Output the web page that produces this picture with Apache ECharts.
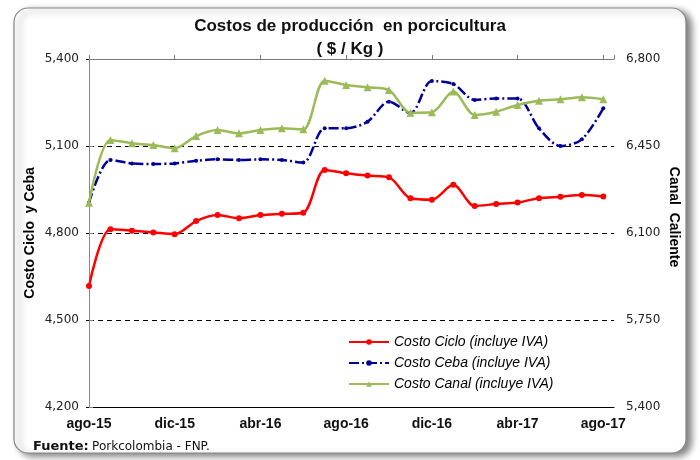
<!DOCTYPE html>
<html>
<head>
<meta charset="utf-8">
<script src="https://cdn.jsdelivr.net/npm/echarts@6/dist/echarts.min.js"></script>
<style>
  html, body { margin: 0; padding: 0; background: #fff; }
  #chart { width: 700px; height: 460px; }
</style>
</head>
<body>
<div id="chart"></div>
<script>
// meses ago-15 .. ago-17
const meses = [
  'ago-15', 'sep-15', 'oct-15', 'nov-15', 'dic-15', 'ene-16', 'feb-16', 'mar-16', 'abr-16',
  'may-16', 'jun-16', 'jul-16', 'ago-16', 'sep-16', 'oct-16', 'nov-16', 'dic-16',
  'ene-17', 'feb-17', 'mar-17', 'abr-17', 'may-17', 'jun-17', 'jul-17', 'ago-17'
];

// eje izquierdo
const costoCiclo = [4617, 4813, 4808, 4802, 4796, 4841, 4862, 4851, 4862, 4866, 4870, 5017, 5006,
  4998, 4992, 4920, 4915, 4966, 4893, 4900, 4905, 4920, 4925, 4931, 4926];
const costoCeba = [4905, 5052, 5040, 5038, 5040, 5049, 5054, 5052, 5054, 5052, 5043, 5161, 5161,
  5184, 5253, 5213, 5324, 5314, 5259, 5264, 5264, 5161, 5100, 5123, 5230];
// eje derecho
const costoCanal = [6222, 6474, 6461, 6454, 6441, 6490, 6514, 6501, 6514, 6521, 6517, 6713, 6695,
  6686, 6675, 6584, 6586, 6669, 6575, 6588, 6615, 6632, 6638, 6646, 6638];

const ticksIzq = [4200, 4500, 4800, 5100, 5400];
const ticksDer = [5400, 5750, 6100, 6450, 6800];

const nombres = ['Costo Ciclo (incluye IVA)', 'Costo Ceba (incluye IVA)', 'Costo Canal (incluye IVA)'];

const chart = echarts.init(document.getElementById('chart'));

const miles = (v) => String(v).replace(/\B(?=(\d{3})+(?!\d))/g, ',');
const labelNum = { fontFamily: 'DejaVu Sans', fontSize: 12, color: '#222' };

const option = {
  animation: false,
  title: {
    text: 'Costos de producción  en porcicultura\n( $ / Kg )',
    left: 'center',
    top: 10,
    textStyle: {
      fontFamily: "'Liberation Sans Narrow', 'Liberation Sans'",
      fontWeight: 'bold',
      fontSize: 17,
      lineHeight: 23,
      color: '#111',
    },
  },
  legend: {
    orient: 'vertical',
    left: 343,
    top: 330,
    itemWidth: 40,
    itemHeight: 7,
    itemGap: 7,
    data: nombres,
    textStyle: {
      fontFamily: 'Liberation Sans',
      fontStyle: 'italic',
      fontSize: 14,
      color: '#000',
    },
  },
  grid: {
    left: 89,
    right: 86,
    top: 59,
    bottom: 53,
  },
  xAxis: [
    {
      type: 'value',
      min: 0,
      max: 24.5,
      interval: 4,
      position: 'bottom',
      z: 1,
      axisLine: { lineStyle: { color: '#000', width: 1 } },
      axisTick: { show: false },
      splitLine: { show: false },
      axisLabel: {
        formatter: (v) => meses[v] || '',
        fontFamily: 'Liberation Sans',
        fontWeight: 'bold',
        fontSize: 14,
        color: '#111',
        margin: 10,
      },
    },
    {
      type: 'value',
      min: 0,
      max: 24.5,
      interval: 4,
      position: 'top',
      z: 1,
      axisLine: { lineStyle: { color: '#777', width: 1 } },
      axisTick: { show: true, length: 4, lineStyle: { color: '#777' } },
      axisLabel: { show: false },
      splitLine: { show: false },
    },
  ],
  yAxis: [
    {
      type: 'value',
      min: ticksIzq[0],
      max: ticksIzq[ticksIzq.length - 1],
      interval: ticksIzq[1] - ticksIzq[0],
      position: 'left',
      axisLine: { show: true, lineStyle: { color: '#000' } },
      axisTick: { show: true, length: 3, lineStyle: { color: '#000' } },
      axisLabel: { ...labelNum, formatter: miles, margin: 10 },
      splitLine: { show: true, lineStyle: { color: '#000', type: [5, 4], width: 1 } },
    },
    {
      type: 'value',
      min: ticksDer[0],
      max: ticksDer[ticksDer.length - 1],
      interval: ticksDer[1] - ticksDer[0],
      position: 'right',
      z: 1,
      axisLine: { show: true, lineStyle: { color: '#888' } },
      axisTick: { show: true, length: 4, lineStyle: { color: '#888' } },
      axisLabel: { ...labelNum, formatter: miles, margin: 12 },
      splitLine: { show: false },
    },
  ],
  graphic: [
    {
      type: 'rect',
      z: -1,
      shape: { x: 14, y: 8, width: 672, height: 445, r: 14 },
      style: {
        fill: '#fff',
        stroke: '#888',
        lineWidth: 1.2,
        shadowBlur: 7,
        shadowOffsetX: 5,
        shadowOffsetY: 3,
        shadowColor: 'rgba(0,0,0,0.5)',
      },
    },
    {
      type: 'text',
      x: 30,
      y: 233,
      rotation: Math.PI / 2,
      style: {
        text: 'Costo Ciclo  y Ceba',
        fontFamily: 'Liberation Sans',
        fontWeight: 'bold',
        fontSize: 14,
        fill: '#000',
        align: 'center',
        verticalAlign: 'middle',
      },
    },
    {
      type: 'text',
      x: 674,
      y: 217,
      rotation: -Math.PI / 2,
      style: {
        text: 'Canal  Caliente',
        fontFamily: 'Liberation Sans',
        fontWeight: 'bold',
        fontSize: 14,
        fill: '#000',
        align: 'center',
        verticalAlign: 'middle',
      },
    },
    {
      type: 'text',
      left: 33,
      top: 440,
      style: {
        text: '{b|Fuente:} {n|Porkcolombia - FNP.}',
        rich: {
          b: { fontFamily: 'DejaVu Sans', fontWeight: 'bold', fontSize: 13, fill: '#111' },
          n: { fontFamily: 'DejaVu Sans', fontSize: 12, fill: '#111' },
        },
      },
    },
  ],
  series: [
    {
      name: nombres[0],
      type: 'line',
      xAxisIndex: 0,
      yAxisIndex: 0,
      data: costoCiclo.map((v, i) => [i, v]),
      smooth: 0.3,
      symbol: 'circle',
      symbolSize: 6,
      lineStyle: { color: '#ff0000', width: 2.5 },
      itemStyle: { color: '#ff0000' },
    },
    {
      name: nombres[1],
      type: 'line',
      xAxisIndex: 0,
      yAxisIndex: 0,
      data: costoCeba.map((v, i) => [i, v]),
      smooth: 0.3,
      symbol: 'circle',
      symbolSize: 4,
      lineStyle: { color: '#000099', width: 2.5, type: [10, 3, 2, 3] },
      itemStyle: { color: '#000099' },
    },
    {
      name: nombres[2],
      type: 'line',
      xAxisIndex: 0,
      yAxisIndex: 1,
      data: costoCanal.map((v, i) => [i, v]),
      smooth: 0.3,
      symbol: 'triangle',
      symbolSize: 8,
      lineStyle: { color: '#9bbb59', width: 2.5 },
      itemStyle: { color: '#9bbb59' },
    },
  ],
};

chart.setOption(option);
</script>
</body>
</html>
